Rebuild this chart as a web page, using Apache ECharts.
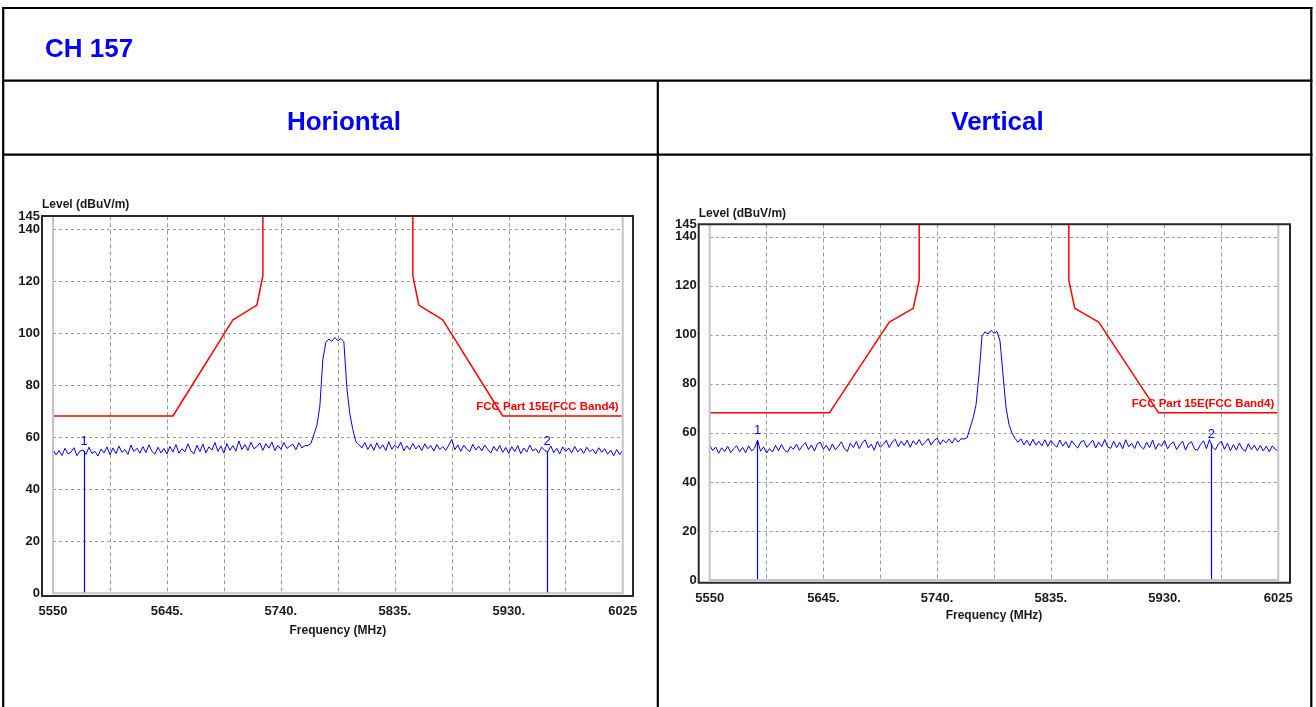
<!DOCTYPE html>
<html>
<head>
<meta charset="utf-8">
<script src="https://cdn.jsdelivr.net/npm/echarts@6/dist/echarts.min.js"></script>
<style>
html,body{margin:0;padding:0;background:#fff;}
#c{width:1316px;height:707px;}
</style>
</head>
<body>
<div id="c"></div>
<script>
// ---------------- DATA ----------------
const freqStart = 5550;          // MHz, first sweep point
const freqStep = 2.5;            // MHz, sweep step
const xTickLabels = ['5550', '5645.', '5740.', '5835.', '5930.', '6025'];
const yMax = 145;

// Horizontal polarisation trace (dBuV/m), 5550..6025 MHz in 2.5 MHz steps
const levelH = [
  55.4, 53.2, 54.9, 53.0, 55.8, 53.6, 54.3, 56.0, 52.9, 54.7,
  55.1, 53.4, 56.2, 53.8, 54.6, 52.8, 55.5, 54.0, 56.3, 53.3,
  55.9, 53.7, 56.6, 54.2, 55.3, 53.4, 57.0, 54.5, 55.8, 53.9,
  56.4, 54.1, 57.1, 54.6, 53.5, 56.2, 54.0, 55.7, 53.6, 56.5,
  54.3, 57.2, 53.9, 55.6, 54.4, 57.5, 54.8, 53.7, 56.9, 54.5,
  57.4, 54.0, 56.3, 55.1, 58.0, 54.6, 56.7, 53.9, 57.6, 55.0,
  56.8, 54.7, 58.6, 55.3, 57.2, 54.9, 58.1, 55.6, 56.4, 57.8,
  55.0, 57.5, 55.8, 58.2, 54.9, 56.9, 55.4, 58.0, 55.7, 56.6,
  57.3, 55.2, 57.9, 55.9, 56.8,
  56.8, 57.6, 61.0, 64.5, 72.0, 90.0, 96.5, 97.8, 96.9, 98.4, 97.1, 98.0, 96.8, 79.0, 69.0, 63.0, 58.3, 57.2,
  55.9, 58.0, 55.3, 57.4, 55.0, 57.9, 55.6, 57.1, 54.9, 58.3,
  55.4, 57.0, 55.8, 58.1, 54.8, 56.7, 55.2, 57.6, 55.5, 56.9,
  54.9, 57.5, 55.6, 56.8, 54.7, 57.2, 55.3, 56.4, 55.0, 57.0,
  59.2, 55.2, 57.1, 54.6, 56.9, 55.4, 54.5, 57.3, 55.1, 56.6,
  54.8, 57.0, 55.3, 53.9, 56.5, 54.7, 56.9, 54.2, 56.1, 53.8,
  56.4, 54.5, 56.8, 53.7, 55.9, 54.3, 57.0, 54.8, 55.6, 53.9,
  56.2, 54.9, 54.4, 56.7, 54.1, 55.8, 53.6, 56.3, 54.6, 55.9,
  54.0, 56.5, 54.3, 55.7, 53.8, 56.2, 54.5, 55.4, 53.7, 56.0,
  54.2, 55.6, 53.5, 55.1, 52.9, 55.3, 53.4, 54.8
];

// Vertical polarisation trace (dBuV/m), same frequency grid
const levelV = [
  55.0, 52.8, 54.2, 51.7, 53.9, 52.4, 54.6, 52.0, 53.5, 54.8,
  52.3, 54.1, 51.9, 54.7, 52.6, 53.8, 57.0, 52.5, 54.3, 51.8,
  53.6, 52.2, 54.9, 52.7, 55.3, 53.0, 52.1, 54.5, 53.3, 55.4,
  52.9, 54.8, 56.0, 53.2, 55.1, 52.6, 55.6, 56.2, 53.4, 54.9,
  52.7, 55.5, 53.1, 54.6, 56.4, 53.5, 52.4, 55.8, 54.0, 56.5,
  53.6, 55.9, 57.2, 53.8, 55.4, 52.9, 56.6, 54.2, 55.3, 57.0,
  54.0, 56.3, 57.4, 54.4, 56.7, 54.8, 57.1, 54.1, 56.8, 55.2,
  57.3, 54.9, 56.1, 57.6, 55.0, 56.9, 57.8, 55.3, 57.2, 55.9,
  57.5, 55.8, 57.9, 56.2, 57.6,
  57.5, 58.0, 62.0, 66.0, 71.5, 84.0, 99.5, 101.2, 100.3, 101.8, 100.6, 101.4, 97.5, 84.0, 70.5, 63.5, 60.0, 57.8,
  56.2, 57.6, 55.1, 57.0, 54.8, 57.4, 55.0, 56.6, 54.7, 57.2,
  54.5, 56.9, 55.3, 54.2, 57.1, 54.6, 56.4, 53.9, 56.8, 55.0,
  53.8, 56.3, 56.9, 54.1, 55.6, 57.0, 53.9, 56.2, 54.4, 57.3,
  54.2, 53.7, 56.6, 54.0, 56.1, 53.5, 57.2, 54.3, 55.8, 53.6,
  56.7, 54.5, 53.4, 56.2, 54.0, 57.1, 53.3, 55.7, 54.6, 56.9,
  53.5, 55.4, 56.3, 53.2, 55.1, 56.7, 53.0, 55.6, 56.4, 53.4,
  52.9, 55.3, 56.8, 53.6, 57.3, 54.2, 53.1, 55.5, 56.6, 53.3,
  55.8, 52.8, 55.2, 53.0, 55.9, 53.4, 52.5, 55.6, 53.2, 55.0,
  52.7, 54.9, 52.6, 54.6, 52.3, 54.7, 53.3, 52.8
];

// FCC Part 15E (Band 4) limit line; null breaks the line
const limitFreq  = [5550, 5650, 5700,  5720,  5725,  5725, null, 5850, 5850,  5855,  5875,  5925, 6025];
const limitLevel = [68.2, 68.2, 105.2, 110.8, 122.2, 145,  null, 145,  122.2, 110.8, 105.2, 68.2, 68.2];
const limitName = 'FCC Part 15E(FCC Band4)';

// Markers
const markerNames = ['1', '2'];
const markerFreqH = [5576, 5962];
const markerLevelH = [54.8, 54.6];
const markerFreqV = [5590, 5969];
const markerLevelV = [57.0, 55.5];

// Text
const pageTitle = 'CH 157';
const colTitles = ['Horiontal', 'Vertical'];
const yName = 'Level (dBuV/m)';
const xName = 'Frequency (MHz)';

// ---------------- BUILD ----------------
const SANS = '"Liberation Sans",Arial,sans-serif';
const LBL = { fontFamily: SANS, fontWeight: 'bold', fontSize: 13, color: '#1a1a1a' };
const rel = f => f - freqStart; // axis runs 0..475 so ticks start at min

function traceData(levels) {
  return levels.map((v, i) => [rel(freqStart + i * freqStep), v]);
}
function limitData() {
  return limitFreq.map((f, i) => f === null ? '-' : [rel(f), limitLevel[i]]);
}
function markerLines(freqs, levels) {
  return freqs.map((f, i) => [
    { coord: [rel(f), 0], symbol: 'none' },
    { coord: [rel(f), levels[i]], symbol: 'none', label: { formatter: markerNames[i] } }
  ]);
}

function xAxis(gi) {
  return {
    type: 'value', gridIndex: gi, min: 0, max: 475, interval: 47.5,
    name: xName, nameLocation: 'middle', nameGap: gi === 0 ? 31 : 29,
    nameTextStyle: { fontFamily: SANS, fontWeight: 'bold', fontSize: 12, color: '#1a1a1a' },
    axisLine: { show: false }, axisTick: { show: false },
    axisLabel: Object.assign({ margin: 12, showMinLabel: true, showMaxLabel: true,
      formatter: v => {
        const k = Math.round(v / 47.5);
        return k % 2 === 0 ? xTickLabels[k / 2] : '';
      } }, LBL),
    splitLine: { show: true, lineStyle: { color: '#9a9a9a', width: 1, type: [4, 3] } }
  };
}
function yAxis(gi) {
  return {
    type: 'value', gridIndex: gi, min: 0, max: yMax, interval: 20,
    axisLine: { show: false }, axisTick: { show: false },
    axisLabel: Object.assign({ margin: 13, showMinLabel: true, showMaxLabel: false }, LBL),
    splitLine: { show: true, lineStyle: { color: '#9a9a9a', width: 1, type: [3, 3] } }
  };
}
// extra axis carrying only the top "145" label (it overlaps "140" as in the original)
function yAxisTop(gi) {
  return {
    type: 'value', gridIndex: gi, min: 0, max: yMax, interval: 20, position: 'left',
    axisLine: { show: false }, axisTick: { show: false }, splitLine: { show: false },
    axisLabel: Object.assign({ margin: 13, showMinLabel: false, showMaxLabel: true,
      formatter: v => v === yMax ? String(yMax) : '' }, LBL)
  };
}

const grids = [
  { left: 53, top: 216.3, width: 569.7, height: 377 },
  { left: 709.7, top: 224.5, width: 568.6, height: 355.5 }
];
const frames = [
  { x: 42, y: 216, w: 591, h: 380, ly: 205 },
  { x: 698.7, y: 224.3, w: 591.3, h: 358.4, ly: 214 }
];

const series = [];
[[levelH, markerFreqH, markerLevelH], [levelV, markerFreqV, markerLevelV]].forEach((s, gi) => {
  series.push({
    type: 'line', xAxisIndex: gi, yAxisIndex: gi, data: limitData(),
    showSymbol: false, connectNulls: false, silent: true, z: 3,
    lineStyle: { color: '#ff0000', width: 1.5 }, itemStyle: { color: '#ff0000' },
    markPoint: {
      silent: true, animation: false, symbol: 'circle', symbolSize: 0,
      data: [{ coord: [rel(limitFreq[limitFreq.length - 1]), limitLevel[limitLevel.length - 1]] }],
      label: {
        show: true, position: 'top', align: 'right', distance: 3, offset: [-4, 0],
        formatter: limitName, color: '#ff0000',
        fontFamily: SANS, fontWeight: 'bold', fontSize: 11.5
      }
    }
  });
  series.push({
    type: 'line', xAxisIndex: gi, yAxisIndex: gi, data: traceData(s[0]),
    showSymbol: false, silent: true, z: 4,
    lineStyle: { color: '#0000ff', width: 1 }, itemStyle: { color: '#0000ff' },
    markLine: {
      silent: true, symbol: 'none', animation: false,
      lineStyle: { color: '#0000ff', width: 1.2, type: 'solid' },
      label: { show: true, position: 'end', distance: 3, color: '#0000ff', fontFamily: SANS, fontSize: 13 },
      data: markerLines(s[1], s[2])
    }
  });
});

const graphic = [];
// table borders
const B = '#000';
const hl = (y) => ({ type: 'line', shape: { x1: 2, y1: y, x2: 1312.4, y2: y }, style: { stroke: B, lineWidth: 2.2 } });
const vl = (x, y0) => ({ type: 'line', shape: { x1: x, y1: y0, x2: x, y2: 707 }, style: { stroke: B, lineWidth: 2.2 } });
graphic.push(hl(8), hl(80.7), hl(154.7), vl(3.2, 7), vl(1311.3, 7), vl(657.8, 80.7));
// titles
graphic.push({ type: 'text', x: 45, y: 50, style: { text: pageTitle, fill: '#0000ff', font: 'bold 26px ' + SANS, textVerticalAlign: 'middle' } });
graphic.push({ type: 'text', x: 344, y: 123, style: { text: colTitles[0], fill: '#0000ff', font: 'bold 26px ' + SANS, textAlign: 'center', textVerticalAlign: 'middle' } });
graphic.push({ type: 'text', x: 997.5, y: 123, style: { text: colTitles[1], fill: '#0000ff', font: 'bold 26px ' + SANS, textAlign: 'center', textVerticalAlign: 'middle' } });
// chart frames and y titles
frames.forEach((f, gi) => {
  graphic.push({ type: 'rect', z: 10, shape: { x: f.x, y: f.y, width: f.w, height: f.h }, style: { fill: null, stroke: '#2a2a2a', lineWidth: 2 } });
  const g = grids[gi];
  graphic.push({ type: 'polyline', z: 9, shape: { points: [[g.left, f.y], [g.left, g.top + g.height], [g.left + g.width, g.top + g.height], [g.left + g.width, f.y]] }, style: { fill: null, stroke: '#c4c4c4', lineWidth: 2 } });
  graphic.push({ type: 'text', x: f.x, y: f.ly, style: { text: yName, fill: '#1a1a1a', font: 'bold 12px ' + SANS, textVerticalAlign: 'middle' } });
});

const chart = echarts.init(document.getElementById('c'), null, { renderer: 'canvas' });
chart.setOption({
  animation: false,
  grid: grids,
  xAxis: [xAxis(0), xAxis(1)],
  yAxis: [yAxis(0), yAxis(1), yAxisTop(0), yAxisTop(1)],
  series: series,
  graphic: graphic
});
</script>
</body>
</html>
